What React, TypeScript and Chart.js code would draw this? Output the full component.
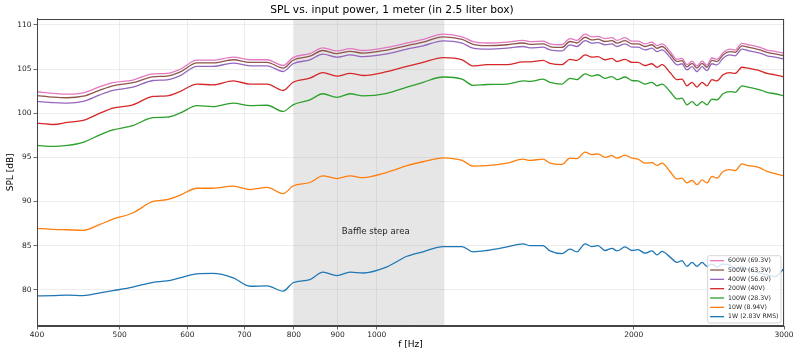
import React, { useEffect, useRef } from 'react';
import { Chart, registerables } from 'chart.js';

Chart.register(...registerables);

const FONT = "'DejaVu Sans', sans-serif";

const titleText = 'SPL vs. input power, 1 meter (in 2.5 liter box)';
const xTitle = 'f [Hz]';
const yTitle = 'SPL [dB]';

const xTickValues = [400, 500, 600, 700, 800, 900, 1000, 2000, 3000];
const yTickValues = [80, 85, 90, 95, 100, 105, 110];

const baffleStart = 800;
const baffleEnd = 1200;
const baffleLabel = 'Baffle step area';
const baffleLabelX = 910;
const baffleLabelY = 86.55;

const freqs = [
  400, 418, 434, 453, 474, 491, 518, 547, 568, 588,
  616, 643, 679, 711, 744, 777, 798, 835, 865, 898,
  931, 964, 1028, 1085, 1133, 1196, 1259, 1297, 1346, 1421,
  1484, 1512, 1566, 1596, 1648, 1684, 1716, 1754, 1787, 1816,
  1851, 1886, 1912, 1954, 1991, 2023, 2062, 2101, 2130, 2159,
  2206, 2248, 2278, 2309, 2341, 2372, 2405, 2437, 2470, 2504,
  2545, 2593, 2629, 2679, 2722, 2759, 2812, 2866, 2928, 3000,
];

const spl600W = [
  102.43, 102.25, 102.15, 102.3, 103.0, 103.45, 103.75, 104.45, 104.5, 104.95,
  106.0, 106.0, 106.35, 106.05, 106.05, 105.4, 106.3, 106.75, 107.4, 107.05,
  107.3, 107.1, 107.45, 107.95, 108.35, 108.95, 108.65, 108.1, 107.95, 108.05,
  108.25, 108.1, 108.15, 107.85, 107.75, 108.45, 108.25, 108.95, 108.65, 108.7,
  108.45, 108.55, 108.25, 108.55, 108.15, 108.15, 107.85, 108.05, 107.65, 107.85,
  107.0, 106.1, 106.2, 105.5, 105.9, 105.35, 105.9, 105.45, 106.25, 106.1,
  106.85, 107.25, 107.15, 107.9, 107.75, 107.65, 107.45, 107.15, 107.0, 106.8,
];

const spl500W = [
  102.0, 101.82, 101.75, 101.92, 102.62, 103.1, 103.45, 104.12, 104.2, 104.65,
  105.7, 105.7, 106.05, 105.75, 105.75, 105.1, 106.0, 106.45, 107.1, 106.75,
  107.0, 106.8, 107.15, 107.65, 108.05, 108.65, 108.35, 107.8, 107.65, 107.75,
  107.95, 107.8, 107.85, 107.55, 107.45, 108.12, 107.95, 108.6, 108.3, 108.38,
  108.12, 108.22, 107.93, 108.22, 107.85, 107.85, 107.55, 107.75, 107.35, 107.55,
  106.7, 105.85, 105.95, 105.25, 105.65, 105.1, 105.65, 105.2, 105.98, 105.85,
  106.6, 106.98, 106.88, 107.62, 107.47, 107.36, 107.18, 106.88, 106.72, 106.5,
];

const spl400W = [
  101.33, 101.2, 101.14, 101.33, 102.08, 102.57, 102.95, 103.7, 103.78, 104.23,
  105.3, 105.3, 105.67, 105.36, 105.36, 104.72, 105.6, 106.04, 106.68, 106.34,
  106.6, 106.4, 106.72, 107.25, 107.62, 108.2, 107.93, 107.36, 107.25, 107.36,
  107.55, 107.4, 107.47, 107.17, 107.06, 107.74, 107.55, 108.22, 107.93, 108.0,
  107.74, 107.85, 107.55, 107.85, 107.47, 107.47, 107.17, 107.36, 106.98, 107.17,
  106.34, 105.48, 105.6, 104.9, 105.28, 104.72, 105.28, 104.83, 105.6, 105.48,
  106.23, 106.6, 106.5, 107.25, 107.09, 106.98, 106.8, 106.5, 106.34, 106.12,
];

const spl200W = [
  98.88, 98.72, 98.95, 99.18, 100.0, 100.57, 100.95, 101.9, 101.97, 102.45,
  103.3, 103.2, 103.65, 103.3, 103.3, 102.57, 103.5, 103.97, 104.6, 104.2,
  104.5, 104.27, 104.7, 105.3, 105.75, 106.3, 106.05, 105.35, 105.5, 105.5,
  105.8, 105.8, 105.97, 105.65, 105.5, 106.1, 105.97, 106.6, 106.35, 106.4,
  106.05, 106.2, 105.85, 106.1, 105.75, 105.75, 105.4, 105.6, 105.2, 105.5,
  104.6, 103.8, 103.85, 103.1, 103.5, 102.95, 103.5, 103.1, 103.8, 103.65,
  104.35, 104.6, 104.5, 105.2, 105.1, 104.98, 104.8, 104.5, 104.35, 104.1,
];

const spl100W = [
  96.35, 96.24, 96.35, 96.7, 97.55, 98.1, 98.6, 99.5, 99.55, 100.0,
  100.85, 100.75, 101.15, 100.85, 100.9, 100.2, 100.95, 101.5, 102.2, 101.8,
  102.2, 101.95, 102.25, 102.95, 103.5, 104.1, 103.85, 103.15, 103.25, 103.3,
  103.65, 103.6, 103.85, 103.5, 103.3, 103.95, 103.8, 104.45, 104.2, 104.35,
  103.95, 104.15, 103.8, 104.1, 103.7, 103.65, 103.3, 103.5, 103.1, 103.3,
  102.45, 101.6, 101.7, 100.95, 101.3, 100.85, 101.3, 100.95, 101.6, 101.5,
  102.2, 102.45, 102.35, 103.1, 102.95, 102.85, 102.65, 102.35, 102.2, 101.95,
];

const spl10W = [
  86.96, 86.85, 86.8, 86.73, 87.4, 88.0, 88.7, 90.0, 90.2, 90.7,
  91.5, 91.5, 91.75, 91.35, 91.6, 90.9, 91.75, 92.15, 92.9, 92.6,
  92.9, 92.7, 93.3, 94.05, 94.5, 94.95, 94.65, 94.0, 94.05, 94.35,
  94.8, 94.65, 94.8, 94.35, 94.2, 94.9, 94.85, 95.6, 95.3, 95.4,
  95.0, 95.2, 94.9, 95.25, 94.9, 94.8, 94.35, 94.4, 94.1, 94.35,
  93.4, 92.55, 92.65, 92.1, 92.4, 91.9, 92.45, 92.1, 92.85, 92.65,
  93.4, 93.6, 93.5, 94.25, 94.05, 94.0, 93.8, 93.4, 93.15, 92.9,
];

const spl1W = [
  79.31, 79.35, 79.4, 79.35, 79.65, 79.9, 80.3, 80.85, 81.0, 81.35,
  81.8, 81.85, 81.35, 80.4, 80.45, 79.85, 80.8, 81.15, 82.0, 81.6,
  82.0, 81.9, 82.6, 83.8, 84.3, 84.9, 84.9, 84.3, 84.45, 84.85,
  85.2, 85.0, 85.0, 84.4, 84.1, 84.6, 84.3, 85.2, 84.9, 85.0,
  84.45, 84.7, 84.4, 84.85, 84.45, 84.55, 84.15, 84.4, 83.95, 84.35,
  83.7, 83.1, 83.3, 82.65, 83.1, 82.65, 83.1, 82.65, 82.9, 82.6,
  82.9, 82.8, 82.4, 82.6, 82.3, 82.1, 81.9, 81.7, 81.5, 82.4,
];

const seriesLabels = [
  '600W (69.3V)',
  '500W (63.3V)',
  '400W (56.6V)',
  '200W (40V)',
  '100W (28.3V)',
  '10W (8.94V)',
  '1W (2.83V RMS)',
];
const seriesValues = [spl600W, spl500W, spl400W, spl200W, spl100W, spl10W, spl1W];
const seriesColors = ['#e377c2', '#8c564b', '#9467bd', '#d62728', '#2ca02c', '#ff7f0e', '#1f77b4'];

const overlayPlugin = {
  id: 'overlay',
  beforeDatasetsDraw(chart: any) {
    const { ctx, chartArea: a, scales } = chart;
    const x0 = scales.x.getPixelForValue(baffleStart);
    const x1 = scales.x.getPixelForValue(baffleEnd);
    ctx.save();
    ctx.fillStyle = 'rgba(128,128,128,0.2)';
    ctx.fillRect(x0, a.top, x1 - x0, a.bottom - a.top);
    ctx.restore();
  },
  afterDatasetsDraw(chart: any) {
    const { ctx, chartArea: a, scales } = chart;
    ctx.save();
    ctx.fillStyle = '#262626';
    ctx.font = `8.6px ${FONT}`;
    ctx.textAlign = 'left';
    ctx.textBaseline = 'middle';
    ctx.fillText(baffleLabel, scales.x.getPixelForValue(baffleLabelX), scales.y.getPixelForValue(baffleLabelY));

    ctx.strokeStyle = '#444';
    ctx.lineWidth = 1;
    ctx.strokeRect(Math.round(a.left) + 0.5, Math.round(a.top) + 0.5, Math.round(a.right - a.left) - 1, Math.round(a.bottom - a.top) - 1);

    const ds = chart.data.datasets;
    const fs = 6.2;
    ctx.font = `${fs}px ${FONT}`;
    let tw = 0;
    ds.forEach((d: any) => { tw = Math.max(tw, ctx.measureText(d.label).width); });
    const rowH = 9.33;
    const w = 20.5 + tw + 2.5;
    const h = rowH * ds.length + 2;
    const rx = a.right - 3 - w;
    const ry = a.bottom - 3 - h;
    ctx.fillStyle = 'rgba(255,255,255,0.8)';
    ctx.strokeStyle = '#cccccc';
    ctx.lineWidth = 0.8;
    ctx.beginPath();
    (ctx as any).roundRect(rx, ry, w, h, 2);
    ctx.fill();
    ctx.stroke();
    ds.forEach((d: any, i: number) => {
      const cy = ry + 5 + i * rowH;
      ctx.strokeStyle = d.borderColor;
      ctx.lineWidth = 1.3;
      ctx.beginPath();
      ctx.moveTo(rx + 2.5, cy);
      ctx.lineTo(rx + 16.5, cy);
      ctx.stroke();
      ctx.fillStyle = '#262626';
      ctx.textAlign = 'left';
      ctx.textBaseline = 'middle';
      ctx.fillText(d.label, rx + 20.5, cy);
    });
    ctx.restore();
  },
};

export default function App() {
  const ref = useRef<HTMLCanvasElement | null>(null);

  useEffect(() => {
    document.body.style.margin = '0';
    const canvas = ref.current;
    if (!canvas) return;
    const datasets = seriesLabels.map((label, i) => ({
      label,
      data: freqs.map((f, j) => ({ x: f, y: seriesValues[i][j] })),
      borderColor: seriesColors[i],
      backgroundColor: seriesColors[i],
      borderWidth: 1.3,
      pointRadius: 0,
      cubicInterpolationMode: 'monotone',
      fill: false,
    }));
    const chart = new Chart(canvas, {
      type: 'line',
      data: { datasets },
      plugins: [overlayPlugin],
      options: {
        animation: false,
        responsive: false,
        devicePixelRatio: 1,
        layout: { padding: { left: 0, right: 16, top: 0, bottom: 0 } },
        plugins: {
          legend: { display: false },
          tooltip: { enabled: false },
          title: {
            display: true,
            text: titleText,
            color: '#000',
            font: { family: FONT, size: 10.7, weight: 'normal', lineHeight: 1 },
            padding: { top: 5, bottom: 3 },
          },
        },
        scales: {
          x: {
            type: 'logarithmic',
            min: 400,
            max: 3000,
            afterBuildTicks: (s: any) => { s.ticks = xTickValues.map((v) => ({ value: v })); },
            afterFit: (s: any) => { s.height = 30; },
            ticks: {
              autoSkip: false,
              maxRotation: 0,
              color: '#262626',
              padding: 1.5,
              font: { family: FONT, size: 7.5 },
              callback: (v: any) => String(v),
            },
            grid: { color: '#e8e8e8', lineWidth: 0.8, tickLength: 3.5, tickColor: '#444', tickWidth: 0.8 },
            border: { display: true, color: '#444' },
            title: {
              display: true,
              text: xTitle,
              color: '#000',
              font: { family: FONT, size: 9 },
              padding: { top: 0, bottom: 6 },
            },
          },
          y: {
            type: 'linear',
            min: 75.9,
            max: 110.7,
            afterBuildTicks: (s: any) => { s.ticks = yTickValues.map((v) => ({ value: v })); },
            afterFit: (s: any) => { s.width = 37; },
            ticks: {
              color: '#262626',
              padding: 2,
              font: { family: FONT, size: 7.5 },
              callback: (v: any) => String(v),
            },
            grid: { color: '#e8e8e8', lineWidth: 0.8, tickLength: 3.5, tickColor: '#444', tickWidth: 0.8 },
            border: { display: true, color: '#444' },
            title: {
              display: true,
              text: yTitle,
              color: '#000',
              font: { family: FONT, size: 9 },
              padding: { top: 5.5, bottom: 0 },
            },
          },
        },
      },
    } as any);
    return () => chart.destroy();
  }, []);

  return (
    <div style={{ position: 'fixed', left: 0, top: 0, width: 800, height: 356, background: '#fff' }}>
      <canvas ref={ref} width={800} height={356} style={{ width: 800, height: 356, display: 'block' }} />
    </div>
  );
}
